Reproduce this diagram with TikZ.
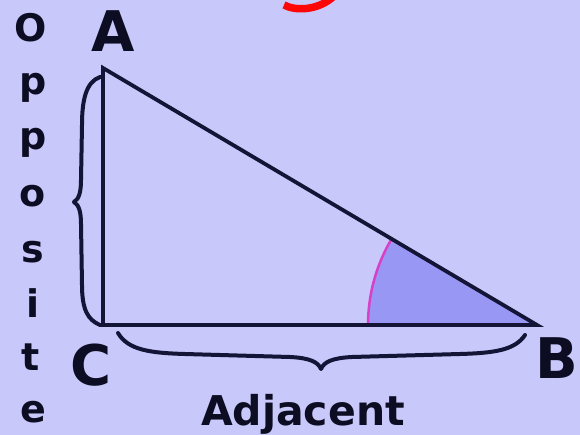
\documentclass[tikz,border=0pt]{standalone}
\usepackage{fontspec}
\setmainfont{DejaVu Sans}
\definecolor{bg}{HTML}{C8C8FA}
\definecolor{ink}{HTML}{0C0C22}
\definecolor{navy}{HTML}{141436}
\definecolor{sector}{HTML}{9898F4}
\definecolor{arcpink}{HTML}{D840C8}
\definecolor{redmark}{HTML}{FF0606}
\begin{document}
\begin{tikzpicture}[x=1pt,y=-1pt,
  vletter/.style={font=\fontsize{38}{38}\selectfont\bfseries, anchor=base, inner sep=0pt, text=ink},
  vertexlabel/.style={font=\fontsize{56}{56}\selectfont\bfseries, anchor=base, inner sep=0pt, text=ink},
  sidelabel/.style={font=\fontsize{41}{41}\selectfont\bfseries, anchor=base, inner sep=0pt, text=ink},
  edge/.style={draw=navy, line width=3.8pt},
  bracestroke/.style={draw=navy, line width=4pt, line cap=round, line join=round},
  anglearc/.style={draw=arcpink, line width=2.5pt},
  redstroke/.style={draw=redmark, line width=7.5pt}]
\useasboundingbox (0,0) rectangle (580,435);
\fill[bg] (0,0) rectangle (580,435);
\clip (0,0) rectangle (580,435);

% vertices
\coordinate (A) at (103,68);
\coordinate (C) at (103,325);
\coordinate (B) at (537,325);

% red mark at the top
\coordinate (r1) at (284,5);
\coordinate (r2) at (334,-4);
\draw[redstroke] (r1) .. controls (295,11) and (318,11) .. (r2);

% angle sector
\fill[sector] (B) -- ++(-169,0) arc[start angle=180, end angle=210.63, radius=169] -- cycle;
\draw[anglearc] (B) ++(-169,0) arc[start angle=180, end angle=210.63, radius=169];

% triangle
\draw[edge, line join=miter] (A) -- (C) -- (B) -- cycle;

% left brace
\coordinate (lb1) at (100,77);
\coordinate (lbt) at (74,202);
\coordinate (lb2) at (100,325);
\draw[bracestroke] (lb1) .. controls (86,82) and (82,100) .. (82,125) -- (81,180)
  .. controls (81,192) and (79,199) .. (lbt)
  .. controls (79,205) and (81,212) .. (81,224) -- (82,285)
  .. controls (82,310) and (88,320) .. (lb2);

% bottom brace
\coordinate (bb1) at (118,333);
\coordinate (bbt) at (321,369);
\coordinate (bb2) at (525,335);
\draw[bracestroke] (bb1) .. controls (128,350) and (150,353) .. (185,354) -- (290,357)
  .. controls (310,358) and (318,362) .. (bbt)
  .. controls (324,362) and (332,358) .. (352,357) -- (460,354)
  .. controls (495,353) and (515,350) .. (bb2);

% vertex labels
\node[vertexlabel] (LA) at (113,52) {A};
\node[vertexlabel] (LC) at (91,385) {C};
\node[vertexlabel] (LB) at (557,378) {B};

% side labels
\node[sidelabel] (adj) at (303,425) {Adjacent};
\node[vletter] (o1) at (31,42) {O};
\node[vletter] (o2) at (33,95) {p};
\node[vletter] (o3) at (33,150) {p};
\node[vletter] (o4) at (33,207) {o};
\node[vletter] (o5) at (33,263) {s};
\node[vletter] (o6) at (33,317) {i};
\node[vletter] (o7) at (31,370) {t};
\node[vletter] (o8) at (33,422) {e};
\end{tikzpicture}
\end{document}
